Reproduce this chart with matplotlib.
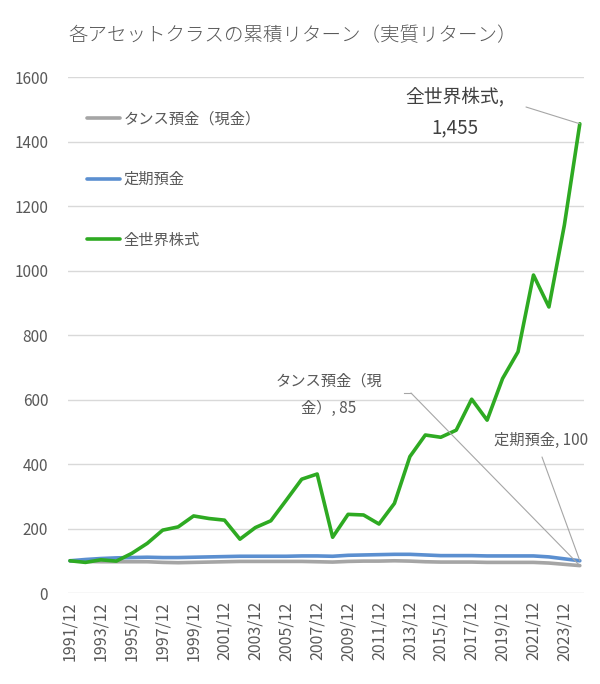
import numpy as np
import matplotlib
matplotlib.use("Agg")
from matplotlib import pyplot as plt

plt.rcParams['font.family'] = ['Noto Sans CJK JP', 'DejaVu Sans']

years = [f"{y}/12" for y in range(1991, 2025)]
cash = [100, 98, 97, 97, 97, 97, 95, 94, 95, 96, 97, 98, 98, 98, 98, 98, 97, 96,
        98, 99, 99, 100, 99, 97, 96, 96, 96, 95, 95, 95, 95, 93, 89, 85]
deposit = [100, 104, 107, 109, 110, 111, 110, 110, 111, 112, 113, 114, 114, 114, 114, 115, 115, 114,
           117, 118, 119, 120, 120, 118, 116, 116, 116, 115, 115, 115, 115, 112, 106, 100]
stocks = [100, 95, 103, 99, 123, 154, 195, 205, 239, 231, 226, 167, 203, 224, 288, 353, 369, 173,
          244, 242, 214, 278, 423, 490, 483, 505, 601, 536, 665, 748, 986, 887, 1141, 1455]
names = ["タンス預金（現金）", "定期預金", "全世界株式"]
colors = ["#A5A5A5", "#5B8FD0", "#2EAA22"]

txt = "#595959"
fig = plt.figure(figsize=(6, 6.84), dpi=100)
ax = fig.add_axes([0.1128, 0.133, 0.86, 0.7544])
x = np.arange(len(years))
for vals, name, c in zip([cash, deposit, stocks], names, colors):
    ax.plot(x, vals, color=c, lw=2.6, label=name, solid_capstyle="round")

ax.set_xlim(-0.15, 33.25)
ax.set_ylim(0, 1600)
ax.set_yticks(range(0, 1601, 200))
ax.set_xticks(x[::2])
ax.set_xticklabels(years[::2], rotation=90)
ax.tick_params(axis="both", length=0, colors=txt)
ax.tick_params(axis="y", pad=14, labelsize=11)
ax.tick_params(axis="x", pad=6, labelsize=11.5)
ax.grid(axis="y", color="#D9D9D9", lw=1)
ax.set_axisbelow(True)
for s in ax.spines.values():
    s.set_visible(False)

fig.text(0.488, 0.948, "各アセットクラスの累積リターン（実質リターン）", ha="center", va="center",
         fontsize=14, color=txt, fontweight="light")

leg = ax.legend(loc="upper left", bbox_to_anchor=(0.01, 0.962), frameon=False, fontsize=11,
                handlelength=2.2, handletextpad=0.2, labelspacing=2.85)
for t in leg.get_texts():
    t.set_color(txt)

# labels on the last points
last = len(years) - 1
line_kw = dict(arrowstyle="-", color="#A6A6A6", lw=0.8, shrinkA=0, shrinkB=0)
ax.text(455, 684 - 112, f"{names[2]},\n{stocks[-1]:,}", transform=None, ha="center", va="center",
        fontsize=13.5, color="#404040", linespacing=1.6)
ax.annotate("", xy=(last, stocks[-1]), xytext=(526, 684 - 107), textcoords="figure pixels",
            arrowprops=line_kw)
ax.text(329, 684 - 395, "タンス預金（現\n金）, " + str(cash[-1]), transform=None, ha="center",
        va="center", fontsize=11, color=txt, linespacing=1.8)
ax.plot([404, 411], [684 - 393, 684 - 393], transform=None, color="#A6A6A6", lw=0.8)
ax.annotate("", xy=(last, cash[-1]), xytext=(411, 684 - 393), textcoords="figure pixels",
            arrowprops=line_kw)
ax.text(541, 684 - 440, f"{names[1]}, {deposit[-1]}", transform=None, ha="center", va="center",
        fontsize=11, color=txt)
ax.annotate("", xy=(last, deposit[-1]), xytext=(542, 684 - 457), textcoords="figure pixels",
            arrowprops=line_kw)

plt.savefig("out.png", dpi=100)
plt.close()
